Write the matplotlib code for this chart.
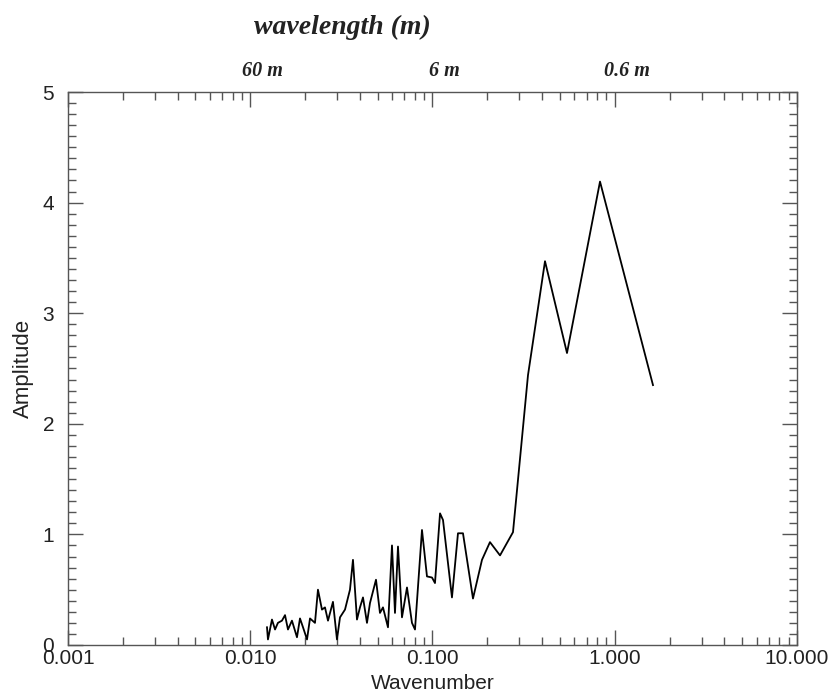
import matplotlib
matplotlib.use("Agg")
import matplotlib.pyplot as plt
import matplotlib.transforms as mtransforms
from matplotlib.ticker import LogLocator, MultipleLocator, FixedLocator, NullFormatter

# spectrum
wavenumber = [0.01236, 0.01251, 0.01316, 0.01368, 0.01419, 0.01493, 0.01552, 0.01611,
              0.01694, 0.01805, 0.01875, 0.01948, 0.02049, 0.02128, 0.02266, 0.02353,
              0.02475, 0.02571, 0.02671, 0.02844, 0.02992, 0.03109, 0.03311, 0.03526,
              0.03662, 0.03852, 0.04001, 0.04156, 0.04371, 0.04541, 0.04898, 0.05150,
              0.05350, 0.05699, 0.05995, 0.06226, 0.06467, 0.06802, 0.07246, 0.07716,
              0.08017, 0.08757, 0.09328, 0.09938, 0.1032, 0.1100, 0.1142, 0.1279,
              0.1380, 0.1470, 0.1668, 0.1869, 0.2067, 0.2347, 0.2765, 0.3342,
              0.4143, 0.5470, 0.8301, 1.621]
amplitude = [0.16, 0.05, 0.23, 0.14, 0.20, 0.22, 0.27, 0.14,
             0.22, 0.07, 0.24, 0.16, 0.05, 0.24, 0.20, 0.50,
             0.32, 0.34, 0.22, 0.39, 0.05, 0.25, 0.32, 0.50,
             0.77, 0.23, 0.34, 0.43, 0.20, 0.38, 0.59, 0.29,
             0.34, 0.16, 0.90, 0.29, 0.89, 0.25, 0.52, 0.20,
             0.14, 1.04, 0.62, 0.61, 0.56, 1.19, 1.13, 0.43,
             1.01, 1.01, 0.42, 0.77, 0.93, 0.81, 1.02, 2.44,
             3.47, 2.64, 4.19, 2.35]

top_ticks = [0.01, 0.1, 1.0]
top_labels = ["60 m", "6 m", "0.6 m"]
bottom_ticks = [0.001, 0.01, 0.1, 1.0, 10.0]
bottom_labels = ["0.001", "0.010", "0.100", "1.000", "10.000"]

plt.rcParams['font.family'] = ['Liberation Sans', 'DejaVu Sans']
serif = ['Liberation Serif', 'DejaVu Serif']

fig = plt.figure(figsize=(8.35, 6.96), dpi=100)
ax = fig.add_axes([0.0814, 0.0733, 0.8731, 0.7945])

ax.plot(wavenumber, amplitude, color='black', linewidth=1.3)

ax.set_xscale('log')
ax.set_xlim(0.001, 10)
ax.set_ylim(0, 5)

ax.xaxis.set_major_locator(FixedLocator(bottom_ticks))
ax.set_xticklabels(bottom_labels)
ax.xaxis.set_minor_locator(LogLocator(base=10, subs=range(2, 10), numticks=20))
ax.xaxis.set_minor_formatter(NullFormatter())
ax.yaxis.set_major_locator(MultipleLocator(1))
ax.yaxis.set_minor_locator(MultipleLocator(0.1))

for s in ax.spines.values():
    s.set_color('#555555')
    s.set_linewidth(1.0)

ax.tick_params(which='both', direction='in', top=True, right=True, colors='#555555',
               labelcolor='#222222', labelsize=15)
ax.tick_params(which='major', length=11, width=1.0)
ax.tick_params(which='minor', length=6, width=1.0)
ax.tick_params(axis='x', which='major', pad=3)
ax.tick_params(axis='y', which='major', pad=10)

ax.set_xlabel("Wavenumber", fontsize=15, color='#222222', labelpad=4)
ax.set_ylabel("Amplitude", fontsize=16, color='#222222', labelpad=6)

# wavelength labels on top
sec = ax.secondary_xaxis('top')
sec.xaxis.set_major_locator(FixedLocator(top_ticks))
sec.set_xticklabels(top_labels, family=serif, style='italic', weight='bold',
                    fontsize=14.5, color='#222222')
sec.xaxis.set_minor_locator(FixedLocator([]))
sec.tick_params(length=0, pad=8)
sec.spines['top'].set_visible(False)
offset = mtransforms.ScaledTranslation(12 / 100, 0, fig.dpi_scale_trans)
for lab in sec.get_xticklabels():
    lab.set_transform(lab.get_transform() + offset)

fig.text(0.41, 0.96, "wavelength (m)", family=serif, style='italic', weight='bold',
         fontsize=20, color='#222222', ha='center', va='center')

fig.savefig("out.png", dpi=100)
